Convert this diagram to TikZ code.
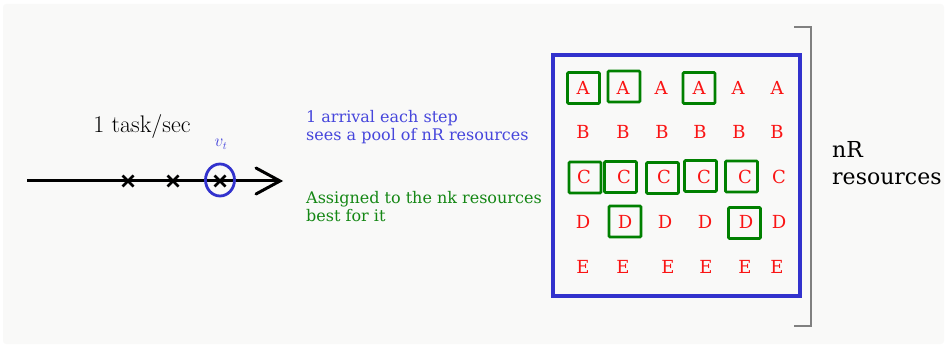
\documentclass[tikz,border=0pt]{standalone}
\usepackage{fontspec}
\setmainfont{DejaVu Serif}
\newfontfamily\lmfont{Latin Modern Roman}
\usetikzlibrary{shapes.geometric}
\definecolor{bgc}{RGB}{249,249,248}
\definecolor{myblue}{RGB}{50,50,205}
\definecolor{txtblue}{RGB}{70,70,220}
\definecolor{mygreen}{RGB}{0,128,0}
\definecolor{txtgreen}{RGB}{20,135,20}
\definecolor{myred}{RGB}{250,20,20}
\definecolor{mygrey}{RGB}{128,128,128}
\begin{document}
\begin{tikzpicture}[x=1pt,y=-1pt,
  letter/.style={text=myred,font=\fontsize{18}{18}\selectfont,inner sep=0pt,anchor=center},
  gbox/.style={draw=mygreen,line width=2.6pt,minimum width=32pt,minimum height=31pt,inner sep=0pt,rounded corners=1pt},
  xmark/.style={line width=2.8pt},
  note/.style={align=left,anchor=north west,inner sep=0pt,font=\fontsize{16}{18}\selectfont}]
\useasboundingbox (0,0) rectangle (947,347);
\fill[bgc,rounded corners=3pt] (3,4) rectangle (944,344);
% timeline
\coordinate (ls) at (27,181);
\coordinate (le) at (280,181);
\draw[line width=3pt] (ls) -- (le);
\draw[line width=3pt,line cap=round,line join=miter] (256,168) -- (le) -- (256,194);
\foreach \n/\xx in {m1/128,m2/173,m3/220}{
  \coordinate (\n) at (\xx,181);
  \draw[xmark] ([shift={(-5.5,-5.5)}]\n) -- ([shift={(5.5,5.5)}]\n);
  \draw[xmark] ([shift={(-5.5,5.5)}]\n) -- ([shift={(5.5,-5.5)}]\n);
}
\node[draw=myblue,line width=2.8pt,ellipse,minimum width=29pt,minimum height=32pt,inner sep=0pt] (circ) at (220,180) {};
\node[text=txtblue,font=\fontsize{16}{16}\selectfont\lmfont] (vt) at (221,144) {$v_t$};
\node[font=\fontsize{24}{24}\selectfont\lmfont,inner sep=0pt] (rate) at (142,127) {1 task/sec};
% notes
\node[note,text=txtblue] (n1) at (306,110) {1 arrival each step\\sees a pool of nR resources};
\node[note,text=txtgreen] (n2) at (306,191) {Assigned to the nk resources\\best for it};
% pool
\draw[myblue,line width=3.5pt] (553,55) rectangle (800,296);
\draw[mygrey,line width=2.5pt] (794,27) -- (811,27) -- (811,326) -- (794,326);
\node[align=left,anchor=west,inner sep=0pt,font=\fontsize{22}{27}\selectfont] (nr) at (832,163) {nR\\resources};
% letters
\foreach \xx [count=\i] in {583,623,661,699,738,777} \node[letter] (A\i) at (\xx,88) {A};
\foreach \xx [count=\i] in {583,623,662,700,739,777} \node[letter] (B\i) at (\xx,132) {B};
\foreach \xx [count=\i] in {584,624,664,704,745,779} \node[letter] (C\i) at (\xx,177) {C};
\foreach \xx [count=\i] in {583,625,665,705,746,779} \node[letter] (D\i) at (\xx,222) {D};
\foreach \xx [count=\i] in {583,623,668,706,745,777} \node[letter] (E\i) at (\xx,267) {E};
% green boxes
\node[gbox] (gA1) at (583.5,88) {};
\node[gbox] (gA2) at (624,86.5) {};
\node[gbox] (gA4) at (699,88) {};
\node[gbox] (gC1) at (585,177.5) {};
\node[gbox] (gC2) at (620.5,177) {};
\node[gbox] (gC3) at (662.5,178) {};
\node[gbox] (gC4) at (700.5,176) {};
\node[gbox] (gC5) at (741.5,176.5) {};
\node[gbox] (gD2) at (625,221.5) {};
\node[gbox] (gD5) at (744.5,223) {};
\end{tikzpicture}
\end{document}
